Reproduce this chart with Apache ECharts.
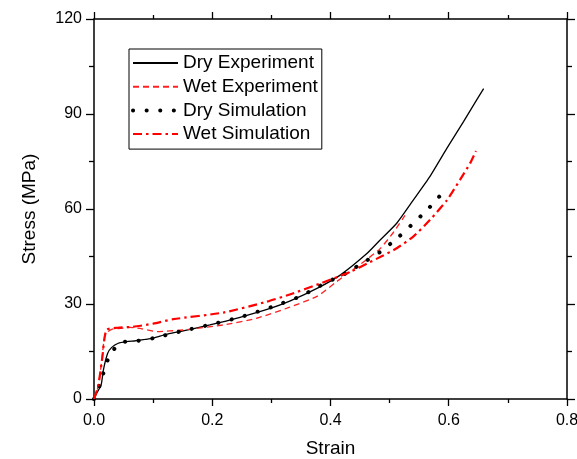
<!DOCTYPE html>
<html>
<head>
<meta charset="utf-8">
<script src="https://cdn.jsdelivr.net/npm/echarts@6/dist/echarts.min.js"></script>
<style>
html,body{margin:0;padding:0;background:#fff;}
#chart{width:577px;height:459px;}
</style>
</head>
<body>
<div id="chart"></div>
<script>
// ---- Data ----
var xTicks = [0, 0.2, 0.4, 0.6, 0.8];
var yTicks = [0, 30, 60, 90, 120];

var dryExpX = [0, 0.005, 0.012, 0.016, 0.023, 0.03, 0.041, 0.055, 0.07, 0.086, 0.1, 0.122, 0.145, 0.196, 0.247, 0.298, 0.331, 0.378, 0.417, 0.462, 0.484, 0.512, 0.54, 0.568, 0.597, 0.625, 0.647, 0.659];
var dryExpY = [0, 2, 4.4, 9.3, 14.4, 16.3, 17.6, 18.1, 18.4, 18.8, 19.2, 20.4, 21.3, 23.4, 25.8, 28.6, 30.9, 35, 39.2, 46, 50.2, 55.5, 62.8, 70.2, 79.2, 87.6, 94.4, 98];

var wetExpX = [0, 0.007, 0.013, 0.019, 0.03, 0.045, 0.06, 0.08, 0.106, 0.151, 0.219, 0.275, 0.331, 0.378, 0.41, 0.461, 0.484, 0.506, 0.526];
var wetExpY = [0, 3.9, 12, 20.5, 22, 22.3, 22.6, 22.2, 21.3, 21.8, 23.4, 25.5, 29, 32.5, 37, 44, 47.5, 52.5, 58];

var drySimX = [0, 0.01, 0.018, 0.027, 0.045, 0.075, 0.1, 0.15, 0.2, 0.25, 0.3, 0.35, 0.375, 0.395, 0.417, 0.44, 0.461, 0.483, 0.516, 0.553, 0.571, 0.589];
var drySimY = [0, 4.5, 9.5, 14, 17.8, 18.4, 19.2, 21.5, 23.6, 26, 29, 32.5, 35, 37, 38.8, 41.3, 43.7, 46.3, 51.3, 57.8, 61.2, 65];

var wetSimX = [0, 0.007, 0.014, 0.021, 0.04, 0.066, 0.1, 0.134, 0.219, 0.292, 0.331, 0.383, 0.434, 0.462, 0.489, 0.512, 0.54, 0.568, 0.597, 0.619, 0.636, 0.646];
var wetSimY = [0, 4, 13, 21.8, 22.5, 22.8, 23.8, 25.2, 27.3, 30.7, 33, 36.5, 40.2, 42.8, 45.3, 47.6, 51.3, 56.5, 62.8, 69.2, 74.4, 78.3];

var seriesNames = ['Dry Experiment', 'Wet Experiment', 'Dry Simulation', 'Wet Simulation'];

function zip(xs, ys) { return xs.map(function (x, i) { return [x, ys[i]]; }); }

var FONT = 'Liberation Sans, Arial, sans-serif';
var chart = echarts.init(document.getElementById('chart'), null, {renderer: 'canvas'});

function xAxisCfg(pos, showLabel) {
  return {
    type: 'value', position: pos, min: xTicks[0], max: xTicks[xTicks.length - 1], interval: 0.2,
    axisLine: {show: true, onZero: false, lineStyle: {color: '#000', width: 1.5}},
    axisTick: {show: true, inside: false, length: 7, lineStyle: {color: '#000', width: 1.3}},
    minorTick: {show: true, splitNumber: 2, length: 4, lineStyle: {color: '#000', width: 1.3}},
    splitLine: {show: false},
    axisLabel: {show: showLabel, margin: 14, color: '#000', fontSize: 16, fontFamily: FONT,
      formatter: function (v) { return v.toFixed(1); }},
    name: showLabel ? 'Strain' : '', nameLocation: 'middle', nameGap: 40,
    nameTextStyle: {color: '#000', fontSize: 19, fontFamily: FONT}
  };
}
function yAxisCfg(pos, showLabel) {
  return {
    type: 'value', position: pos, min: yTicks[0], max: yTicks[yTicks.length - 1], interval: 30,
    axisLine: {show: true, onZero: false, lineStyle: {color: '#000', width: 1.5}},
    axisTick: {show: true, inside: false, length: 8, lineStyle: {color: '#000', width: 1.3}},
    minorTick: {show: true, splitNumber: 2, length: 5, lineStyle: {color: '#000', width: 1.3}},
    splitLine: {show: false},
    axisLabel: {show: showLabel, margin: 12, color: '#000', fontSize: 16, fontFamily: FONT},
    name: showLabel ? 'Stress (MPa)' : '', nameLocation: 'middle', nameGap: 55,
    nameTextStyle: {color: '#000', fontSize: 19, fontFamily: FONT}
  };
}

var option = {
  backgroundColor: '#fff',
  animation: false,
  grid: {left: 94, right: 10, top: 19, bottom: 60, containLabel: false, outerBoundsMode: 'none'},
  xAxis: [xAxisCfg('bottom', true), xAxisCfg('top', false)],
  yAxis: [yAxisCfg('left', true), yAxisCfg('right', false)],
  legend: {
    data: [
      {name: seriesNames[0]},
      {name: seriesNames[1]},
      {name: seriesNames[2], lineStyle: {width: 4}},
      {name: seriesNames[3]}
    ],
    orient: 'vertical', left: 129, top: 49,
    itemWidth: 45, itemHeight: 14, itemGap: 4.7,
    padding: [4.5, 4, 5.5, 2],
    borderColor: '#000', borderWidth: 1, backgroundColor: '#fff',
    itemStyle: {opacity: 0},
    textStyle: {color: '#000', fontSize: 19, fontFamily: FONT, lineHeight: 19}
  },
  series: [
    {name: seriesNames[0], type: 'line', data: zip(dryExpX, dryExpY), symbol: 'none', smooth: 0.2,
      color: '#000', lineStyle: {color: '#000', width: 1.3, type: 'solid'}},
    {name: seriesNames[1], type: 'line', data: zip(wetExpX, wetExpY), symbol: 'none', smooth: 0.2,
      color: '#ff0000', lineStyle: {color: '#ff2020', width: 1.3, type: [6, 4]}},
    {name: seriesNames[2], type: 'line', data: zip(drySimX, drySimY), symbol: 'none', smooth: 0.2,
      color: '#000', lineStyle: {color: '#000', width: 4, type: [0.1, 13.5], cap: 'round'}},
    {name: seriesNames[3], type: 'line', data: zip(wetSimX, wetSimY), symbol: 'none', smooth: 0.2,
      color: '#ff0000', lineStyle: {color: '#ff0000', width: 2.2, type: [9, 4, 2.5, 4]}}
  ]
};
chart.setOption(option);
</script>
</body>
</html>
